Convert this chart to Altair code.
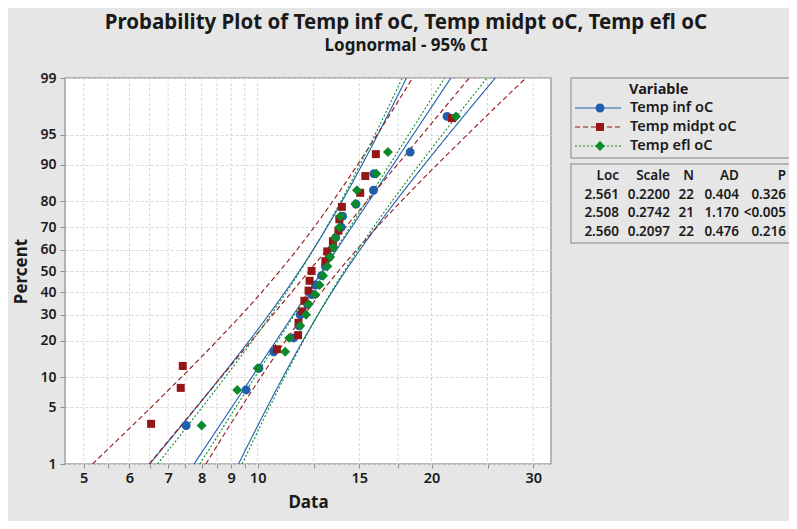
import math
from statistics import NormalDist
import altair as alt
import pandas as pd

# ---------------- data ----------------
series_names = ["Temp inf oC", "Temp midpt oC", "Temp efl oC"]
inf_values = [7.52, 9.55, 10.05, 10.66, 11.54, 11.8, 11.85, 12.2, 12.4, 12.6, 12.9,
              13.1, 13.3, 13.5, 13.65, 13.95, 14.03, 14.8, 15.87, 15.9, 18.37, 21.28]
midpt_values = [6.54, 7.36, 7.42, 10.8, 11.75, 11.77, 11.95, 12.05, 12.25, 12.3, 12.4,
                13.1, 13.2, 13.5, 13.8, 13.85, 13.99, 15.05, 15.36, 16.02, 21.7]
efl_values = [8.0, 9.22, 10.0, 11.16, 11.34, 11.85, 12.13, 12.25, 12.58, 12.8, 12.98,
              13.2, 13.35, 13.53, 13.63, 13.85, 13.9, 14.76, 14.86, 16.05, 16.81, 22.05]
loc_values = [2.561, 2.508, 2.560]
scale_values = [0.2200, 0.2742, 0.2097]
n_values = [22, 21, 22]
ad_values = ["0.404", "1.170", "0.476"]
p_values = ["0.326", "<0.005", "0.216"]
percent_ticks = [1, 5, 10, 20, 30, 40, 50, 60, 70, 80, 90, 95, 99]
x_label_ticks = [5, 6, 7, 8, 9, 10, 15, 20, 30]
x_grid_values = [5, 5.5, 6, 6.5, 7, 7.5, 8, 8.5, 9, 9.5, 10, 12.5, 15, 17.5, 20, 25, 30]

colors = ["#1f5fae", "#951616", "#0b8a2c"]
dashes = [[1, 0], [5, 3], [2, 2]]
shapes = ["circle", "square", "diamond"]
sizes = [80, 64, 100]

nd = NormalDist()
Z_LO, Z_HI = nd.inv_cdf(0.01), nd.inv_cdf(0.99)
Z95 = nd.inv_cdf(0.975)

# probability-plot positions (Minitab median ranks) and fitted lognormal lines with 95% CI
value_lists = [inf_values, midpt_values, efl_values]
point_frames, line_frames = [], []
for name, vals, mu, sg, n in zip(series_names, value_lists, loc_values, scale_values, n_values):
    vs = sorted(vals)
    point_frames.append(pd.DataFrame({
        "series": name, "x": vs,
        "z": [nd.inv_cdf((i + 1 - 0.3) / (len(vs) + 0.4)) for i in range(len(vs))]}))
    rows = []
    steps = 80
    for k in range(steps + 1):
        z = Z_LO + (Z_HI - Z_LO) * k / steps
        c = mu + z * sg
        half = Z95 * sg * math.sqrt((1 + z * z / 2) / n)
        rows.append({"series": name, "part": "fit", "z": z, "x": math.exp(c), "k": k})
        rows.append({"series": name, "part": "lo", "z": z, "x": math.exp(c - half), "k": k})
        rows.append({"series": name, "part": "hi", "z": z, "x": math.exp(c + half), "k": k})
    line_frames.append(pd.DataFrame(rows))

FONT = "Noto Sans"
W, H = 486, 386
x_scale = alt.Scale(type="log", domain=[4.64, 32.2], nice=False)
y_scale = alt.Scale(domain=[Z_LO, Z_HI], nice=False, zero=False)

label_list = ",".join(str(v) for v in x_label_ticks)
x_axis = alt.Axis(values=x_grid_values, grid=False, title="Data",
                  labelExpr=f"indexof([{label_list}], datum.value) >= 0 ? format(datum.value, 'd') : ''",
                  labelOverlap=False, labelFlush=False, tickSize=4, tickColor="#909090",
                  domain=False, labelFontSize=14.5, labelFont=FONT, labelFontWeight=600,
                  labelColor="#1a1a1a", labelPadding=3,
                  titleFont=FONT, titleFontSize=17, titleFontWeight="bold", titleColor="#1a1a1a",
                  titlePadding=10)
y_axis = alt.Axis(values=[nd.inv_cdf(p / 100) for p in percent_ticks],
                  labelExpr="round(cumulativeNormal(datum.value) * 100)",
                  grid=True, gridColor="#d9d9d9", gridDash=[3, 2], gridWidth=1,
                  tickSize=5, tickColor="#909090", domain=False, title="Percent",
                  labelOverlap=False, labelFlush=False,
                  labelFontSize=14, labelFont=FONT, labelFontWeight=600, labelColor="#1a1a1a",
                  labelPadding=4, titleFont=FONT, titleFontSize=17, titleFontWeight="bold",
                  titleColor="#1a1a1a", titlePadding=9)


def X():
    return alt.X("x:Q", scale=x_scale, axis=x_axis)


def Y():
    return alt.Y("z:Q", scale=y_scale, axis=y_axis)


grid_df = pd.DataFrame({"x": x_grid_values})
vgrid = alt.Chart(grid_df).mark_rule(stroke="#d9d9d9", strokeDash=[3, 2], strokeWidth=1).encode(x=X())

# invisible layer carrying the y axis
axis_df = pd.DataFrame({"z": [0.0], "x": [10.0]})
ycarrier = alt.Chart(axis_df).mark_point(opacity=0).encode(x=X(), y=Y())

layers = [vgrid, ycarrier]
for i in range(3):
    layers.append(alt.Chart(line_frames[i]).mark_line(
        color=colors[i], strokeWidth=1.1, strokeDash=dashes[i], clip=True).encode(
        x=X(), y=Y(), detail="part:N", order="k:Q"))
for i in range(3):
    layers.append(alt.Chart(point_frames[i]).mark_point(
        shape=shapes[i], filled=True, opacity=1, color=colors[i], size=sizes[i]).encode(
        x=X(), y=Y()))

one = pd.DataFrame({"a": [0]})
base = alt.Chart(one)

# titles
layers.append(base.mark_text(text="Probability Plot of Temp inf oC, Temp midpt oC, Temp efl oC",
                             font=FONT, fontSize=20.5, fontWeight="bold", color="#1a1a1a",
                             align="center", baseline="middle").encode(
    x=alt.value(341), y=alt.value(-55)))
layers.append(base.mark_text(text="Lognormal - 95% CI", font=FONT, fontSize=17, fontWeight="bold",
                             color="#1a1a1a", align="center", baseline="middle").encode(
    x=alt.value(341), y=alt.value(-32)))

# legend box
layers.append(base.mark_rect(fill="#e6e6e6", stroke="#a6a6a6", strokeWidth=1.5).encode(
    x=alt.value(506), x2=alt.value(740), y=alt.value(0), y2=alt.value(80)))
layers.append(base.mark_rect(fill="#e6e6e6", stroke="#a6a6a6", strokeWidth=1.5).encode(
    x=alt.value(506), x2=alt.value(740), y=alt.value(86), y2=alt.value(165)))
layers.append(base.mark_text(text="Variable", font=FONT, fontSize=14.5, fontWeight="bold",
                             color="#1a1a1a", align="left", baseline="middle").encode(
    x=alt.value(564), y=alt.value(12)))
for i, name in enumerate(series_names):
    yy = 30 + 19 * i
    layers.append(base.mark_rule(color=colors[i], strokeWidth=1.1, strokeDash=dashes[i]).encode(
        x=alt.value(510), x2=alt.value(556), y=alt.value(yy)))
    layers.append(base.mark_point(shape=shapes[i], filled=True, opacity=1, color=colors[i],
                                  size=sizes[i]).encode(x=alt.value(535), y=alt.value(yy)))
    layers.append(base.mark_text(text=name, font=FONT, fontSize=14.5, fontWeight=600,
                                 color="#1a1a1a", align="left", baseline="middle").encode(
        x=alt.value(565), y=alt.value(yy)))

# statistics table
columns = [
    ("Loc", [f"{v:.3f}" for v in loc_values], 554),
    ("Scale", [f"{v:.4f}" for v in scale_values], 605),
    ("N", [str(v) for v in n_values], 629),
    ("AD", ad_values, 674),
    ("P", p_values, 721),
]
for head, vals, xr in columns:
    layers.append(base.mark_text(text=[head] + vals, lineHeight=18.7, font=FONT, fontSize=13.5,
                                 fontWeight=600, color="#1a1a1a", align="right",
                                 baseline="middle").encode(x=alt.value(xr), y=alt.value(98)))

chart = alt.layer(*layers).properties(
    width=W, height=H,
    autosize=alt.AutoSizeParams(type="none"),
    padding={"left": 57, "top": 70, "right": 238, "bottom": 57},
).configure(background="#e6e6e6").configure_view(
    fill="white", stroke="#a0a0a0", strokeWidth=1.5
).configure_axis(labelOverlap=False)

chart.save("out.html", embed_options={"renderer": "svg", "actions": False})
